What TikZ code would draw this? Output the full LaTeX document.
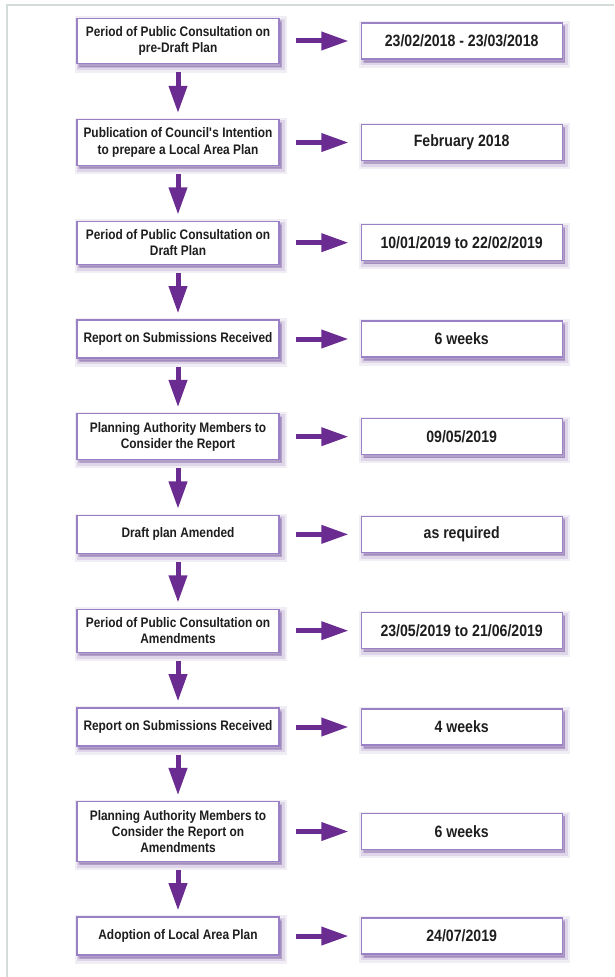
\documentclass[tikz,border=0pt]{standalone}
\usepackage{fontspec}
\setmainfont{Liberation Sans}[FakeStretch=0.86]
\usetikzlibrary{positioning,arrows.meta,shadows}
\definecolor{arrowpurple}{HTML}{6A2C91}
\definecolor{boxline}{HTML}{9A80C4}
\definecolor{boxshade}{HTML}{6E4C9A}
\definecolor{framegray}{HTML}{D3DBDB}
\definecolor{textgray}{HTML}{1E1E1E}
\tikzset{
	softshadow/.style={
		drop shadow={shadow xshift=2.5pt, shadow yshift=-3pt, fill=boxshade, draw=boxshade, line width=9pt, opacity=0.1},
		drop shadow={shadow xshift=2.5pt, shadow yshift=-3pt, fill=boxshade, draw=boxshade, line width=5pt, opacity=0.14},
		drop shadow={shadow xshift=2pt, shadow yshift=-2.5pt, fill=boxshade, draw=boxshade, line width=1.5pt, opacity=0.22}},
	stage/.style={draw=boxline, line width=1pt, fill=white, text=textgray, align=center, font=\fontsize{11.8}{14}\selectfont\bfseries, minimum width=6.06cm, minimum height=1.14cm, inner ysep=7pt, softshadow},
	datebox/.style={stage, font=\fontsize{14}{16}\selectfont\bfseries, minimum width=6.03cm, minimum height=1.08cm},
	flowarrow/.style={draw=arrowpurple, line width=0.15cm, -{Triangle[length=0.82cm, width=0.53cm, fill=arrowpurple]}},
	nextarrow/.style={flowarrow, shorten <=0.24cm, shorten >=0.18cm},
	datearrow/.style={flowarrow, shorten <=0.48cm, shorten >=0.36cm}
}
\begin{document}
\begin{tikzpicture}
	\useasboundingbox (0,0) rectangle (18.42,-29.31);
	\draw[framegray, line width=1.5pt] (0.21,-29.31) -- (0.21,-0.15) -- (18.42,-0.15);

	\node[stage] (s1) at (5.34,-1.23) {Period of Public Consultation on\\pre-Draft Plan};
	\node[datebox, right=2.43cm of s1] (d1) {23/02/2018 - 23/03/2018};

	\node[stage, below=1.64cm of s1] (s2) {Publication of Council\textquotesingle s Intention\\to prepare a Local Area Plan};
	\node[datebox, right=2.43cm of s2] (d2) {February 2018};

	\node[stage, below=1.64cm of s2] (s3) {Period of Public Consultation on\\Draft Plan};
	\node[datebox, right=2.43cm of s3] (d3) {10/01/2019 to 22/02/2019};

	\node[stage, below=1.64cm of s3] (s4) {Report on Submissions Received};
	\node[datebox, right=2.43cm of s4] (d4) {6 weeks};

	\node[stage, below=1.64cm of s4] (s5) {Planning Authority Members to\\Consider the Report};
	\node[datebox, right=2.43cm of s5] (d5) {09/05/2019};

	\node[stage, below=1.64cm of s5] (s6) {Draft plan Amended};
	\node[datebox, right=2.43cm of s6] (d6) {as required};

	\node[stage, below=1.64cm of s6] (s7) {Period of Public Consultation on\\Amendments};
	\node[datebox, right=2.43cm of s7] (d7) {23/05/2019 to 21/06/2019};

	\node[stage, below=1.64cm of s7] (s8) {Report on Submissions Received};
	\node[datebox, right=2.43cm of s8] (d8) {4 weeks};

	\node[stage, below=1.64cm of s8] (s9) {Planning Authority Members to\\Consider the Report on\\Amendments};
	\node[datebox, right=2.43cm of s9] (d9) {6 weeks};

	\node[stage, below=1.64cm of s9] (s10) {Adoption of Local Area Plan};
	\node[datebox, right=2.43cm of s10] (d10) {24/07/2019};

	% time taken by each stage
	\draw[datearrow] (s1) -- (d1);
	\draw[datearrow] (s2) -- (d2);
	\draw[datearrow] (s3) -- (d3);
	\draw[datearrow] (s4) -- (d4);
	\draw[datearrow] (s5) -- (d5);
	\draw[datearrow] (s6) -- (d6);
	\draw[datearrow] (s7) -- (d7);
	\draw[datearrow] (s8) -- (d8);
	\draw[datearrow] (s9) -- (d9);
	\draw[datearrow] (s10) -- (d10);

	% stage to stage
	\draw[nextarrow] (s1) -- (s2);
	\draw[nextarrow] (s2) -- (s3);
	\draw[nextarrow] (s3) -- (s4);
	\draw[nextarrow] (s4) -- (s5);
	\draw[nextarrow] (s5) -- (s6);
	\draw[nextarrow] (s6) -- (s7);
	\draw[nextarrow] (s7) -- (s8);
	\draw[nextarrow] (s8) -- (s9);
	\draw[nextarrow] (s9) -- (s10);
\end{tikzpicture}
\end{document}
